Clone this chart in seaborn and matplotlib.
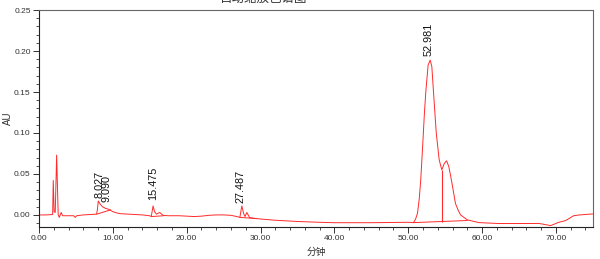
import matplotlib
matplotlib.use("Agg")
import matplotlib.pyplot as plt
import seaborn as sns
import numpy as np
import pandas as pd
from matplotlib.ticker import MultipleLocator, FormatStrFormatter

# ---- data ----
trace_time = [0.0, 1.0, 1.85, 1.93, 2.05, 2.2, 2.39, 2.6, 2.75, 3.0, 3.2, 4.0, 4.7, 4.9, 5.1,
              6.0, 7.0, 7.8, 7.9, 8.03, 8.3, 8.6, 9.0, 9.4, 9.7, 10.0, 10.5, 11.0, 12.0, 13.0,
              14.0, 15.0, 15.2, 15.45, 15.65, 15.9, 16.35, 16.8, 17.5, 19.0, 20.0, 21.0, 22.0,
              23.0, 24.0, 25.0, 26.0, 26.8, 27.2, 27.47, 27.7, 27.9, 28.15, 28.5, 29.0, 30.0,
              32.0, 35.0, 38.0, 40.0, 45.0, 50.0, 50.72, 51.0, 51.26, 51.5, 51.7, 52.0, 52.2,
              52.4, 52.7, 52.98, 53.2, 53.5, 53.8, 54.2, 54.55, 54.9, 55.2, 55.5, 55.8, 56.0,
              56.4, 56.8, 57.1, 58.0, 59.6, 62.3, 65.0, 67.7, 69.3, 70.4, 71.3, 72.4, 73.2,
              75.0]
trace_au = [0.0, 0.0, 0.0005, 0.042, 0.004, 0.003, 0.073, 0.0, -0.003, 0.003, -0.001, -0.001,
            -0.001, -0.003, -0.001, 0.0, 0.0005, 0.001, 0.006, 0.017, 0.013, 0.010, 0.008,
            0.007, 0.0055, 0.004, 0.0025, 0.0015, 0.001, 0.0005, 0.0, -0.001, -0.002, 0.011,
            0.004, 0.001, 0.003, -0.0005, -0.001, -0.001, -0.0015, -0.002, -0.0015, -0.0005,
            0.0, 0.0, -0.0005, -0.002, -0.003, 0.011, 0.002, -0.002, 0.003, -0.003, -0.004,
            -0.005, -0.0065, -0.008, -0.009, -0.0095, -0.0095, -0.009, -0.0094, -0.005, 0.002,
            0.020, 0.043, 0.091, 0.125, 0.152, 0.183, 0.189, 0.181, 0.140, 0.100, 0.067, 0.055,
            0.063, 0.066, 0.059, 0.045, 0.035, 0.014, 0.005, 0.0, -0.006, -0.0094, -0.0105,
            -0.0105, -0.0104, -0.013, -0.009, -0.007, -0.001, 0.0, 0.0012]

# integration baselines (start/end of each segment)
base_8_time = [7.85, 9.7]
base_8_au = [0.001, 0.0062]
base_15_time = [15.2, 16.9]
base_15_au = [-0.002, -0.001]
base_27_time = [27.2, 29.5]
base_27_au = [-0.003, -0.0045]
base_53_time = [50.72, 58.0]
base_53_au = [-0.0094, -0.0068]
drop_time = 54.6
drop_low = -0.0084
drop_high = 0.055

peak_labels = ["8.027", "9.090", "15.475", "27.487", "52.981"]
label_x = [8.15, 9.15, 15.45, 27.25, 52.75]
label_y = [0.0205, 0.016, 0.018, 0.0146, 0.194]

title_text = "自动缩放色谱图"
x_label = "分钟"
y_label = "AU"

# ---- plot ----
sns.set_style("ticks")
plt.rcParams['font.family'] = ['Liberation Sans', 'Noto Sans CJK SC', 'DejaVu Sans']

fig = plt.figure(figsize=(6.0, 2.59), dpi=100)
ax = fig.add_axes([0.065, 0.124, 0.923, 0.837])

red = '#ff2a2a'
df = pd.DataFrame({'t': trace_time, 'au': trace_au})
sns.lineplot(data=df, x='t', y='au', ax=ax, color=red, lw=0.7, sort=False, estimator=None)
for bt, ba in [(base_8_time, base_8_au), (base_15_time, base_15_au),
               (base_27_time, base_27_au), (base_53_time, base_53_au)]:
    sns.lineplot(x=bt, y=ba, ax=ax, color=red, lw=0.7, sort=False, estimator=None)
ax.vlines(drop_time, drop_low, drop_high, color=red, lw=0.8)

for lab, lx, ly in zip(peak_labels, label_x, label_y):
    ax.text(lx, ly, lab, rotation=90, ha='center', va='bottom', fontsize=7.8, color='#111111')

ax.set_xlim(0, 75)
ax.set_ylim(-0.0146, 0.25)
ax.xaxis.set_major_locator(MultipleLocator(10))
ax.xaxis.set_minor_locator(MultipleLocator(2))
ax.yaxis.set_major_locator(MultipleLocator(0.05))
ax.yaxis.set_minor_locator(MultipleLocator(0.01))
ax.xaxis.set_major_formatter(FormatStrFormatter('%.2f'))
ax.yaxis.set_major_formatter(FormatStrFormatter('%.2f'))
ax.tick_params(axis='both', which='major', direction='out', length=4, width=0.7,
               labelsize=6, colors='#333333', pad=2)
ax.tick_params(axis='both', which='minor', direction='out', length=2.5, width=0.6, colors='#333333')
for side in ['left', 'bottom']:
    ax.spines[side].set_color('#222222')
    ax.spines[side].set_linewidth(0.8)
for side in ['top', 'right']:
    ax.spines[side].set_visible(True)
    ax.spines[side].set_color('#666666')
    ax.spines[side].set_linewidth(0.8)

ax.set_xlabel(x_label, fontsize=7, color='#333333', labelpad=3)
ax.set_ylabel(y_label, fontsize=7, color='#333333')
ax.yaxis.set_label_coords(-0.047, 0.5)
fig.text(0.44, 1.005, title_text, ha='center', va='center', fontsize=9, color='#333333')

fig.savefig('out.png', dpi=100)
